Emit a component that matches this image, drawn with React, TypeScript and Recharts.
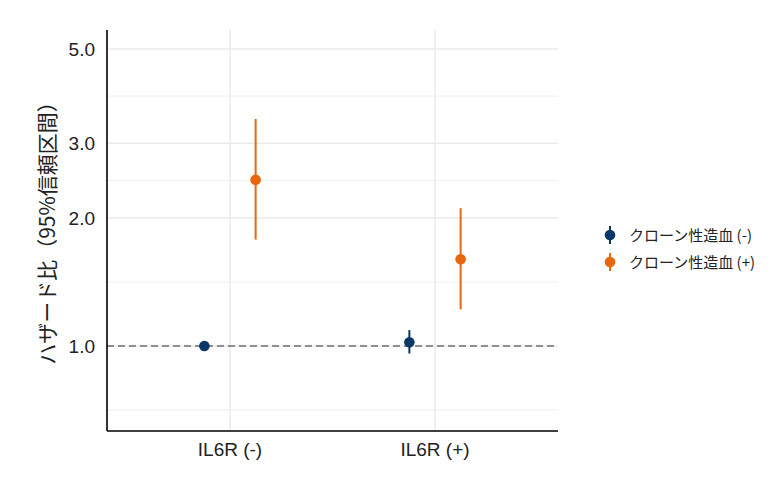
import React from "react";
import {
  ComposedChart,
  Scatter,
  ErrorBar,
  XAxis,
  YAxis,
  ReferenceLine,
  Legend,
} from "recharts";

const categories = ["IL6R (-)", "IL6R (+)"];
const groups = ["クローン性造血 (-)", "クローン性造血 (+)"];
const colors = ["#0B3768", "#E8660C"];

const hrNeg = [1.0, 1.02];
const loNeg = [1.0, 0.96];
const hiNeg = [1.0, 1.09];

const hrPos = [2.46, 1.6];
const loPos = [1.78, 1.22];
const hiPos = [3.42, 2.11];

const yTicks = [1, 2, 3, 5];
const yMinor = [0.7071, 1.4142, 2.4495, 3.873];
const yDomain = [0.631, 5.54];

const DODGE = 0.125;

const build = (hr: number[], lo: number[], hi: number[], side: number) =>
  categories.map((c, i) => ({
    x: i + 1 + side * DODGE,
    hr: hr[i],
    err: [hr[i] - lo[i], hi[i] - hr[i]],
    cat: c,
  }));

const negData = build(hrNeg, loNeg, hiNeg, -1);
const posData = build(hrPos, loPos, hiPos, 1);

const LATIN = "'Liberation Sans', Arial, 'Noto Sans CJK JP', sans-serif";
const CJK = "'Noto Sans CJK JP', 'Liberation Sans', sans-serif";

const makeDot = (color: string) => (props: any) => (
  <circle cx={props.cx} cy={props.cy} r={5.3} fill={color} />
);

const YLabel = () => (
  <text
    x={46}
    y={228}
    transform="rotate(-90 46 228)"
    textAnchor="middle"
    dominantBaseline="central"
    fontFamily={CJK}
    fontSize={21}
    fill="#222"
  >
    ハザード比（95%信頼区間）
  </text>
);

const LegendContent = () => (
  <div style={{ fontFamily: CJK, fontSize: 15, color: "#222" }}>
    {groups.map((g, i) => (
      <div key={g} style={{ display: "flex", alignItems: "center", height: 27 }}>
        <svg width={20} height={22} style={{ marginRight: 9 }}>
          <line x1={10} x2={10} y1={2} y2={20} stroke={colors[i]} strokeWidth={2} />
          <circle cx={10} cy={11} r={5.3} fill={colors[i]} />
        </svg>
        <span>{g}</span>
      </div>
    ))}
  </div>
);

export default function App() {
  return (
    <div style={{ position: "absolute", left: 0, top: 0, background: "#fff" }}>
      <ComposedChart
        width={780}
        height={480}
        margin={{ top: 30, right: 222, bottom: 0, left: 0 }}
      >
        <XAxis
          type="number"
          dataKey="x"
          domain={[0.4, 2.6]}
          ticks={[1, 2]}
          tickFormatter={(v: number) => categories[Math.round(v) - 1]}
          height={49}
          axisLine={{ stroke: "#000", strokeWidth: 1.6 }}
          tickLine={false}
          tickSize={0}
          tickMargin={12}
          tick={{ fill: "#222", fontSize: 19, fontFamily: LATIN }}
          allowDataOverflow
        />
        <YAxis
          type="number"
          dataKey="hr"
          scale="log"
          domain={yDomain}
          ticks={yTicks}
          tickFormatter={(v: number) => v.toFixed(1)}
          width={107}
          axisLine={{ stroke: "#000", strokeWidth: 1.6 }}
          tickLine={false}
          tickSize={0}
          tickMargin={12}
          tick={{ fill: "#222", fontSize: 19, fontFamily: LATIN }}
          allowDataOverflow
          label={<YLabel />}
        />
        {yMinor.map((v) => (
          <ReferenceLine key={"m" + v} y={v} stroke="#EFEFEF" strokeWidth={1} />
        ))}
        {yTicks.map((v) => (
          <ReferenceLine key={"M" + v} y={v} stroke="#EBEBEB" strokeWidth={1.5} />
        ))}
        {[1, 2].map((v) => (
          <ReferenceLine key={"v" + v} x={v} stroke="#EBEBEB" strokeWidth={1.5} />
        ))}
        <ReferenceLine y={1} stroke="#6E6E6E" strokeWidth={1.3} strokeDasharray="7 4" />
        <Scatter
          name={groups[0]}
          data={negData}
          fill={colors[0]}
          shape={makeDot(colors[0])}
          isAnimationActive={false}
        >
          <ErrorBar dataKey="err" direction="y" width={0} stroke={colors[0]} strokeWidth={2} />
        </Scatter>
        <Scatter
          name={groups[1]}
          data={posData}
          fill={colors[1]}
          shape={makeDot(colors[1])}
          isAnimationActive={false}
        >
          <ErrorBar dataKey="err" direction="y" width={0} stroke={colors[1]} strokeWidth={2} />
        </Scatter>
        <Legend
          layout="vertical"
          align="center"
          verticalAlign="middle"
          content={<LegendContent />}
          wrapperStyle={{ left: 600, top: 221, width: 180 }}
        />
      </ComposedChart>
    </div>
  );
}
